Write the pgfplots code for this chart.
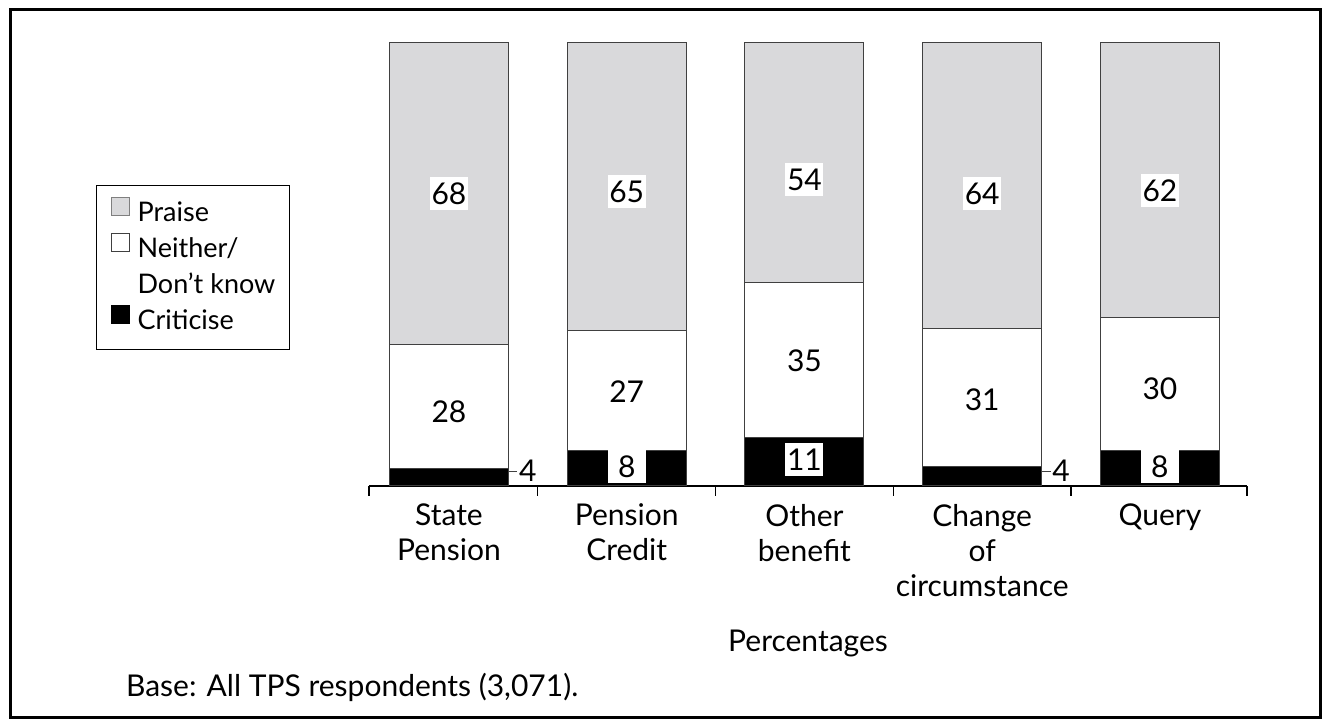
\documentclass[border=0pt]{standalone}
\usepackage{fontspec}
\setmainfont{Lato}
\usepackage{pgfplots}
\usepackage{pgfplotstable}
\pgfplotsset{compat=1.18}
\definecolor{praisegrey}{HTML}{D9D9DB}
\definecolor{edgegrey}{HTML}{404040}
\definecolor{legendgrey}{HTML}{7F7F7F}

\pgfplotstableread{
x crit neither praise
0 4 28 68
1 8 27 65
2 11 35 54
3 4.5 31 64.5
4 8 30 62
}\datatable

\pgfplotstableread{
x y label
0 66.1 68
1 66.4 65
2 69.1 54
3 66.1 64
4 66.6 62
}\praiselabels

\pgfplotstableread{
x y label
0 16.7 28
1 21.4 27
2 28.2 35
3 19.4 31
4 21.9 30
}\neitherlabels

\pgfplotstableread{
x y label
1 4.4 8
2 5.9 11
4 4.4 8
}\critlabels

\pgfplotstableread{
x y label
0.392 3.4 4
3.392 3.4 4
}\outsidelabels

\newcommand{\tickfont}{\fontsize{15}{17.5}\selectfont}

\begin{document}
\begin{tikzpicture}[x=1pt,y=1pt]
\useasboundingbox (0,0) rectangle (661.5,361);
\begin{axis}[
  at={(184.5pt,118pt)}, anchor=south west,
  scale only axis, width=439pt, height=221.5pt,
  ybar stacked, bar width=59.5pt,
  xmin=-0.45, xmax=4.49, ymin=0, ymax=100,
  axis y line=none, axis x line*=bottom,
  axis line style={black, line width=0.6pt},
  xtick={-0.45,0.5,1.5,2.5,3.5,4.49}, xticklabels={},
  tick align=outside, major tick length=5pt,
  tick style={black, line width=0.6pt},
  extra x ticks={0,1,2,3,4},
  extra x tick labels={State\\Pension,Pension\\Credit,Other\\benefit,Change\\of\\circumstance,Query},
  extra x tick style={major tick length=0pt, tick style={draw=none}},
  xticklabel style={font=\tickfont, align=center, text=black, yshift=-5.5pt},
  xlabel={Percentages},
  xlabel style={at={(axis description cs:0.5,0)}, anchor=base, yshift=-83pt, font=\tickfont},
  legend style={at={(-0.3109,0.6795)}, anchor=north west, draw=black, line width=0.6pt,
    inner xsep=7pt, inner ysep=5pt,
    font=\fontsize{13.5}{18}\selectfont, row sep=0pt,
    cells={anchor=west},
    nodes={text height=13pt, text depth=5pt, inner sep=0pt},
    /tikz/every odd column/.append style={column sep=4pt}},
  legend cell align=left,
  legend image code/.code={\draw[#1, line width=0.5pt] (0pt,-1pt) rectangle (9pt,8pt);},
]
\addplot[fill=black, draw=edgegrey, line width=0.5pt, forget plot] table[x=x,y=crit]{\datatable};
\addplot[fill=white, draw=edgegrey, line width=0.5pt, forget plot] table[x=x,y=neither]{\datatable};
\addplot[fill=praisegrey, draw=edgegrey, line width=0.5pt, forget plot] table[x=x,y=praise]{\datatable};
\addlegendimage{fill=praisegrey, draw=legendgrey}
\addlegendentry{Praise}
\addlegendimage{fill=white, draw=edgegrey}
\addlegendentry{Neither/}
\addlegendimage{empty legend}
\addlegendentry{Don’t know}
\addlegendimage{fill=black, draw=black}
\addlegendentry{Criticise}
\end{axis}

\begin{axis}[
  at={(184.5pt,118pt)}, anchor=south west,
  scale only axis, width=439pt, height=221.5pt,
  xmin=-0.45, xmax=4.49, ymin=0, ymax=100,
  hide axis, clip=false,
  nodes near coords, point meta=explicit symbolic,
  nodes near coords align=center,
  every node near coord/.append style={font=\tickfont, anchor=center, text=black},
]
\addplot[draw=none, mark=none, every node near coord/.append style={fill=white, inner sep=0pt, text height=11pt, text depth=0pt, minimum width=19pt, minimum height=16.5pt}] table[x=x,y=y,meta=label]{\praiselabels};
\addplot[draw=none, mark=none] table[x=x,y=y,meta=label]{\neitherlabels};
\addplot[draw=none, mark=none, every node near coord/.append style={fill=white, inner sep=0pt, text height=11pt, text depth=0pt, minimum width=19pt, minimum height=16.5pt}] table[x=x,y=y,meta=label]{\critlabels};
\addplot[draw=none, mark=none, every node near coord/.append style={anchor=west, inner sep=0pt}] table[x=x,y=y,meta=label]{\outsidelabels};
\addplot[edgegrey, line width=0.6pt, mark=none] coordinates {(0.337,3.3) (0.385,3.3)};
\addplot[edgegrey, line width=0.6pt, mark=none] coordinates {(3.337,3.3) (3.385,3.3)};
\end{axis}

\node[anchor=base west, font=\tickfont] at (59.5,12.5) {Base: All TPS respondents (3,071).};
\draw[line width=1.5pt] (5,2) rectangle (660,356);
\end{tikzpicture}
\end{document}
